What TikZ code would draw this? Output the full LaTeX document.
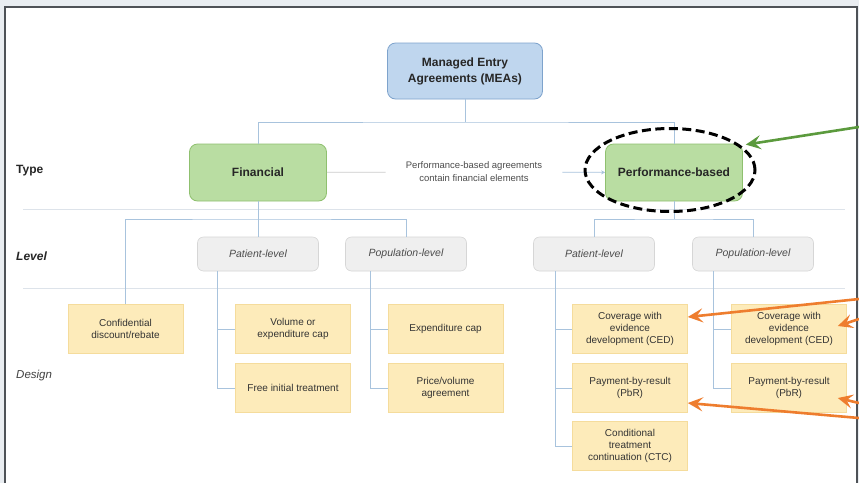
\documentclass[tikz,border=0pt]{standalone}
\usepackage{fontspec}
\setmainfont{Liberation Sans}
\usetikzlibrary{shapes.geometric,arrows.meta}

\definecolor{backdrop}{HTML}{E9EDF1}
\definecolor{framegray}{HTML}{4E5257}
\definecolor{meablue}{HTML}{BFD6EE}
\definecolor{meaedge}{HTML}{7EA3CC}
\definecolor{typegreen}{HTML}{B9DDA2}
\definecolor{typeedge}{HTML}{8FC06F}
\definecolor{levelgray}{HTML}{EFEFEF}
\definecolor{leveledge}{HTML}{D6D6D6}
\definecolor{designyellow}{HTML}{FDEBBA}
\definecolor{designedge}{HTML}{F5DC9C}
\definecolor{linkblue}{HTML}{A8C3DD}
\definecolor{rulegray}{HTML}{DDE3EA}
\definecolor{calloutorange}{HTML}{EE7D2E}
\definecolor{calloutgreen}{HTML}{5B9A3D}

\tikzset{
  meabox/.style={draw=meaedge, fill=meablue, rounded corners=8pt, line width=0.8pt,
    minimum width=155pt, minimum height=56pt, align=center, text=black!85,
    font=\fontsize{12}{16}\selectfont\bfseries},
  typebox/.style={draw=typeedge, fill=typegreen, rounded corners=8pt, line width=0.8pt,
    minimum width=137pt, minimum height=57pt, align=center, text=black!85,
    font=\fontsize{12}{15}\selectfont\bfseries},
  levelbox/.style={draw=leveledge, fill=levelgray, rounded corners=6pt, line width=0.6pt,
    minimum width=121pt, minimum height=34pt, text=black!70,
    font=\fontsize{10.5}{13}\selectfont\itshape},
  designbox/.style={draw=designedge, fill=designyellow, line width=0.6pt,
    minimum width=115pt, minimum height=49pt, align=center, text=black!80,
    font=\fontsize{10}{12}\selectfont},
  rowlabel/.style={anchor=west, inner sep=0pt, text=black!85},
  note/.style={align=center, inner sep=0pt, inner xsep=20pt, text=black!70,
    font=\fontsize{9.5}{13}\selectfont},
  link/.style={draw=linkblue, line width=0.8pt},
  hilite/.style={ellipse, draw=black, line width=3pt, dash pattern=on 9pt off 4.5pt,
    minimum width=170pt, minimum height=83pt},
  orangearrow/.style={draw=calloutorange, line width=2.6pt,
    -{Stealth[length=15pt,width=14pt,inset=6pt]}},
  greenarrow/.style={draw=calloutgreen, line width=2.6pt,
    -{Stealth[length=15pt,width=14pt,inset=6pt]}}
}

\begin{document}
\begin{tikzpicture}[x=1pt, y=-1pt]
\useasboundingbox (0,0) rectangle (859,483);
% Backdrop and frame
  \fill[backdrop] (0,0) rectangle (859,483);
  \fill[white] (5,7) rectangle (857,483);
  \draw[framegray, line width=2pt] (5,483) -- (5,7) -- (857,7) -- (857,483);
% Row rules
  \draw[rulegray, line width=0.8pt] (23,209) -- (845,209);
  \draw[rulegray, line width=0.8pt] (23,288) -- (845,288);
% Row labels
  \node[rowlabel, font=\fontsize{12}{14}\selectfont\bfseries] (typelbl) at (16,171) {Type};
  \node[rowlabel, font=\fontsize{12}{14}\selectfont\bfseries\itshape] (levellbl) at (16,256) {Level};
  \node[rowlabel, font=\fontsize{11.5}{14}\selectfont\itshape, text=black!75] (designlbl) at (16,376) {Design};
% Boxes
  \node[meabox] (mea) at (465,71) {Managed Entry\\Agreements (MEAs)};
  \node[typebox] (fin) at (258,172.5) {Financial};
  \node[typebox] (perf) at (674,172.5) {Performance-based};
  \node[levelbox] (finpat) at (258,254) {Patient-level};
  \node[levelbox] (finpop) at (406,254) {Population-level};
  \node[levelbox] (perfpat) at (594,254) {Patient-level};
  \node[levelbox] (perfpop) at (753,254) {Population-level};
  \node[designbox] (conf) at (125.5,329) {Confidential\\discount/rebate};
  \node[designbox] (vol) at (293,329) {Volume or\\expenditure cap};
  \node[designbox] (free) at (293,388) {Free initial treatment};
  \node[designbox] (expcap) at (445.5,329) {Expenditure cap};
  \node[designbox] (pricevol) at (445.5,388) {Price/volume\\agreement};
  \node[designbox] (cedpat) at (630,329) {Coverage with\\evidence\\development (CED)};
  \node[designbox] (pbrpat) at (630,388) {Payment-by-result\\(PbR)};
  \node[designbox] (ctc) at (630,446) {Conditional\\treatment\\continuation (CTC)};
  \node[designbox] (cedpop) at (789,329) {Coverage with\\evidence\\development (CED)};
  \node[designbox] (pbrpop) at (789,388) {Payment-by-result\\(PbR)};
  \node[note] (mixnote) at (474,172) {Performance-based agreements\\contain financial elements};
% Tree links
  \coordinate (meabus) at (465,122);
  \coordinate (finbus) at (258,219);
  \coordinate (perfbus) at (674,219);
  \draw[link] (mea) -- (meabus);
  \draw[link] (fin) |- (meabus) -| (perf);
  \draw[link] (fin) -- (finpat);
  \draw[link] (conf) |- (finbus) -| (finpop);
  \draw[link] (perf) -- (perfbus);
  \draw[link] (perfpat) |- (perfbus) -| (perfpop);
  \draw[link, draw=black!20] (fin) -- (mixnote);
  \draw[link, -{Stealth[length=4pt,width=4pt]}] (mixnote) -- (perf);
% Design links
  \coordinate (finpattrunk) at ([xshift=20pt]finpat.south west);
  \coordinate (finpoptrunk) at ([xshift=25pt]finpop.south west);
  \coordinate (perfpattrunk) at ([xshift=22pt]perfpat.south west);
  \coordinate (perfpoptrunk) at ([xshift=21pt]perfpop.south west);
  \draw[link] (finpattrunk) |- (vol);
  \draw[link] (finpattrunk) |- (free);
  \draw[link] (finpoptrunk) |- (expcap);
  \draw[link] (finpoptrunk) |- (pricevol);
  \draw[link] (perfpattrunk) |- (cedpat);
  \draw[link] (perfpattrunk) |- (pbrpat);
  \draw[link] (perfpattrunk) |- (ctc);
  \draw[link] (perfpoptrunk) |- (cedpop);
  \draw[link] (perfpoptrunk) |- (pbrpop);
% Highlight and callouts
  \node[hilite] (hilite) at (670,170) {};
  \coordinate (greentail) at (859,127);
  \coordinate (otail1) at (859,299);
  \coordinate (otail2) at (859,319);
  \coordinate (otail3) at (859,403);
  \coordinate (otail4) at (859,418);
  \draw[greenarrow] (greentail) -- ([xshift=6pt]hilite.20);
  \draw[orangearrow] (otail1) -- ([yshift=12pt]cedpat.east);
  \draw[orangearrow] (otail2) -- ([xshift=-9pt,yshift=3pt]cedpop.east);
  \draw[orangearrow] (otail3) -- ([xshift=-9pt,yshift=-10pt]pbrpop.east);
  \draw[orangearrow] (otail4) -- ([yshift=-15pt]pbrpat.east);
\end{tikzpicture}
\end{document}
